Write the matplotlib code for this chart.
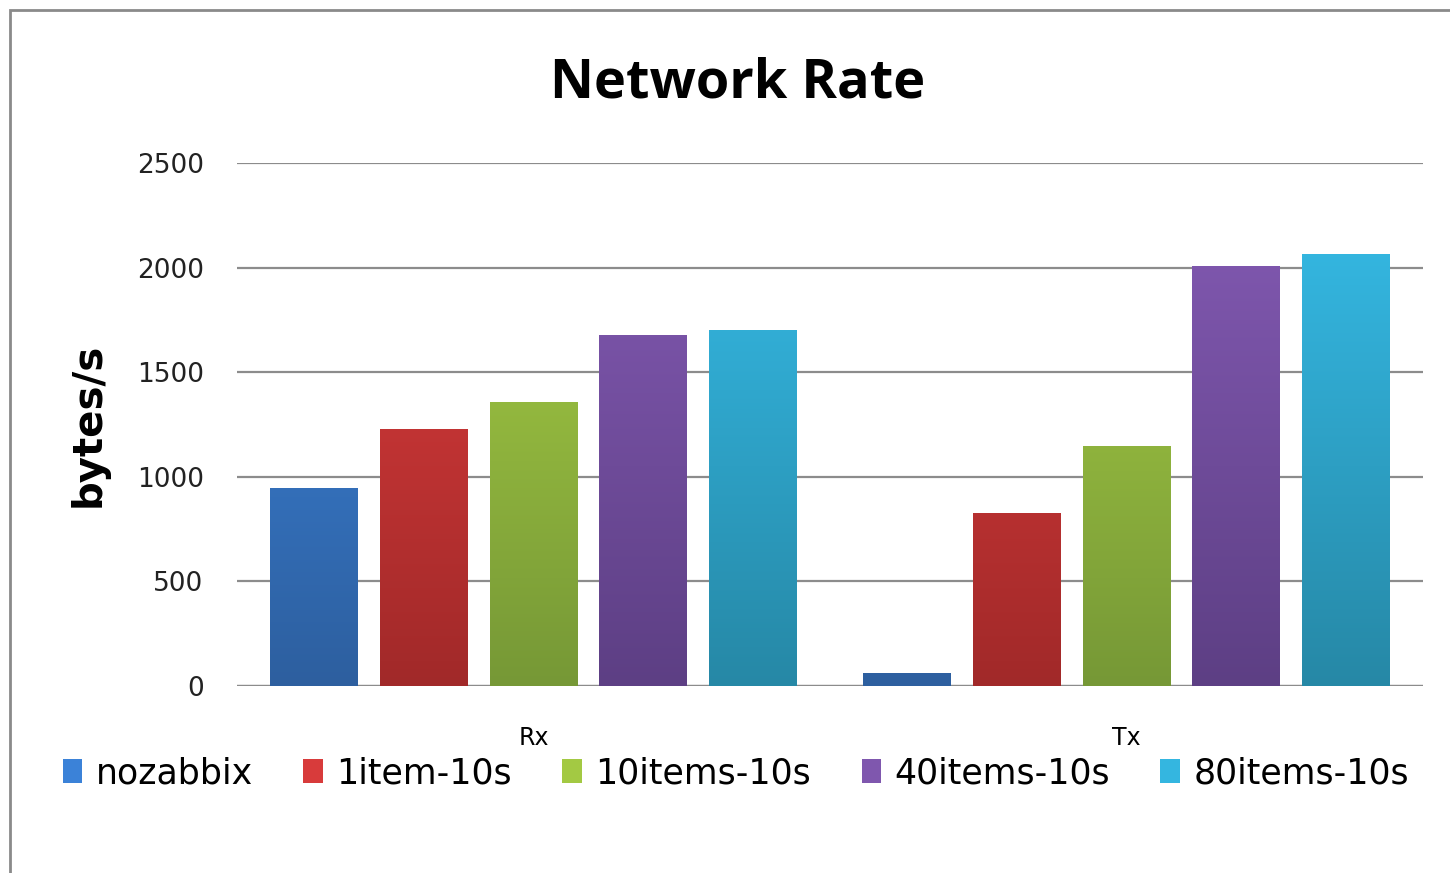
import numpy as np
import matplotlib
matplotlib.use('Agg')
import matplotlib.pyplot as plt
from matplotlib.patches import Rectangle
from matplotlib.colors import LinearSegmentedColormap

categories = ['Rx', 'Tx']
series = ['nozabbix', '1item-10s', '10items-10s', '40items-10s', '80items-10s']
rx_values = [948, 1227, 1359, 1678, 1703]
tx_values = [61, 828, 1147, 2008, 2063]
y_ticks = [0, 500, 1000, 1500, 2000, 2500]

# (top colour, bottom colour) for the gradient fill
colors = [
    ('#3b82d8', '#2d5f9f'),
    ('#d83b3b', '#a12929'),
    ('#a3c943', '#769836'),
    ('#7f57ae', '#5d3f84'),
    ('#34b6e0', '#2688a6'),
]

fig = plt.figure(figsize=(14.5, 8.73), dpi=100)
fig.patches.append(Rectangle((10/1450, -0.1), 1.2, 1.1 - 10/873,
                             transform=fig.transFigure, fill=False,
                             edgecolor='#8a8a8a', linewidth=2))

ax = fig.add_axes([237/1450, 1 - 686/873, (1423-237)/1450, (686-163)/873])

values = np.array([rx_values, tx_values])
x = np.arange(len(categories))
step = 0.185
width = 0.148

for i, name in enumerate(series):
    pos = x + (i - 2) * step
    bars = ax.bar(pos, values[:, i], width=width, color=colors[i][0],
                  label=name, zorder=3)
    cmap = LinearSegmentedColormap.from_list('g%d' % i, [colors[i][1], colors[i][0]])
    grad = np.linspace(0, 1, 256).reshape(-1, 1)
    for b in bars:
        bx, bw = b.get_x(), b.get_width()
        im = ax.imshow(grad, extent=[bx, bx + bw, 0, 2100], origin='lower',
                       aspect='auto', cmap=cmap, zorder=4)
        im.set_clip_path(b)

ax.set_xlim(-0.5, 1.5)
ax.set_ylim(0, 2500)
ax.set_yticks(y_ticks)
ax.set_yticklabels([str(t) for t in y_ticks], fontsize=19, color='#222222')
ax.set_xticks(x)
ax.set_xticklabels(categories, fontsize=17)
ax.tick_params(axis='both', length=0)
ax.tick_params(axis='y', pad=24)
ax.tick_params(axis='x', pad=29)
for s in ax.spines.values():
    s.set_visible(False)
ax.yaxis.grid(True, color='#8c8c8c', linewidth=1.6, zorder=0)
ax.set_axisbelow(True)
ax.axhline(0, color='#8c8c8c', linewidth=1.6, zorder=2)

ax.set_ylabel('bytes/s', fontsize=29, fontweight='bold', labelpad=20)

fig.text(738/1450, 1 - 84/873, 'Network Rate', fontsize=39, fontweight='bold',
         ha='center', va='center', family='Open Sans')

handles, labels = ax.get_legend_handles_labels()
fig.legend(handles, labels, loc='center', bbox_to_anchor=(736/1450, 1 - 773/873),
           ncol=5, frameon=False, fontsize=25, handlelength=0.55, handleheight=0.7,
           handletextpad=0.4, columnspacing=1.45)

fig.savefig('out.png', dpi=100)
